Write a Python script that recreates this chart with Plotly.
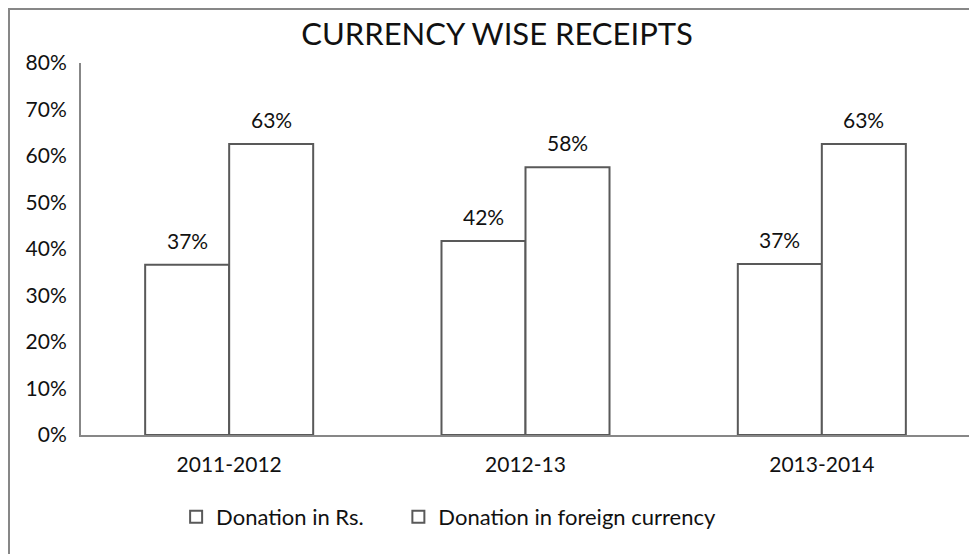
import plotly.graph_objects as go

categories = ["2011-2012", "2012-13", "2013-2014"]
donation_rs = [0.366, 0.417, 0.368]
donation_foreign = [0.626, 0.576, 0.626]
series_names = ["Donation in Rs.", "Donation in foreign currency"]
y_ticks = [0, 0.1, 0.2, 0.3, 0.4, 0.5, 0.6, 0.7, 0.8]
y_tick_labels = ["0%", "10%", "20%", "30%", "40%", "50%", "60%", "70%", "80%"]

FONT = "Lato, Open Sans, sans-serif"
BAR_LINE = "#595959"
AXIS = "#878787"
TXT = "#111"

fig = go.Figure()
for name, vals, lg in zip(series_names, [donation_rs, donation_foreign], ["legend", "legend2"]):
    fig.add_trace(go.Bar(
        x=categories, y=vals, name=name, legend=lg,
        marker=dict(color="white", line=dict(color=BAR_LINE, width=2)),
    ))

# data labels
for vals, shift in [(donation_rs, -42), (donation_foreign, 42)]:
    for c, v in zip(categories, vals):
        fig.add_annotation(x=c, y=v, text=f"{round(v*100):.0f}%", showarrow=False,
                           xshift=shift, yshift=10, yanchor="bottom",
                           font=dict(family=FONT, size=21, color=TXT))

# outer chart border
fig.add_shape(type="rect", xref="paper", yref="paper",
              x0=-0.081, x1=1.03, y0=-0.4, y1=1.145,
              line=dict(color=AXIS, width=2), fillcolor="rgba(0,0,0,0)", layer="below")

leg_common = dict(orientation="h", xanchor="left", y=-0.22, yanchor="middle",
                  itemwidth=30, bgcolor="rgba(0,0,0,0)",
                  font=dict(family=FONT, size=22, color=TXT))

fig.update_layout(
    width=977, height=554,
    margin=dict(l=73, r=15, t=55, b=127),
    paper_bgcolor="white", plot_bgcolor="white",
    font=dict(family=FONT, size=21, color=TXT),
    title=dict(text="CURRENCY WISE RECEIPTS", x=0.468, xanchor="center", xref="paper",
               y=1 - 26 / 554, yanchor="middle", yref="container",
               font=dict(family=FONT, size=31, color=TXT)),
    barmode="group", bargap=0.433, bargroupgap=0,
    showlegend=True,
    legend=dict(x=0.107, **leg_common),
    legend2=dict(x=0.357, **leg_common),
)
fig.update_xaxes(showline=True, linecolor=AXIS, linewidth=2, showgrid=False,
                 ticks="", ticklabelstandoff=10, tickfont=dict(size=21))
fig.update_yaxes(range=[0, 0.8], tickvals=y_ticks, ticktext=y_tick_labels,
                 showline=True, linecolor=AXIS, linewidth=2, showgrid=False,
                 zeroline=False, ticks="", ticklabelstandoff=8, tickfont=dict(size=21))

fig.write_html("out.html")
